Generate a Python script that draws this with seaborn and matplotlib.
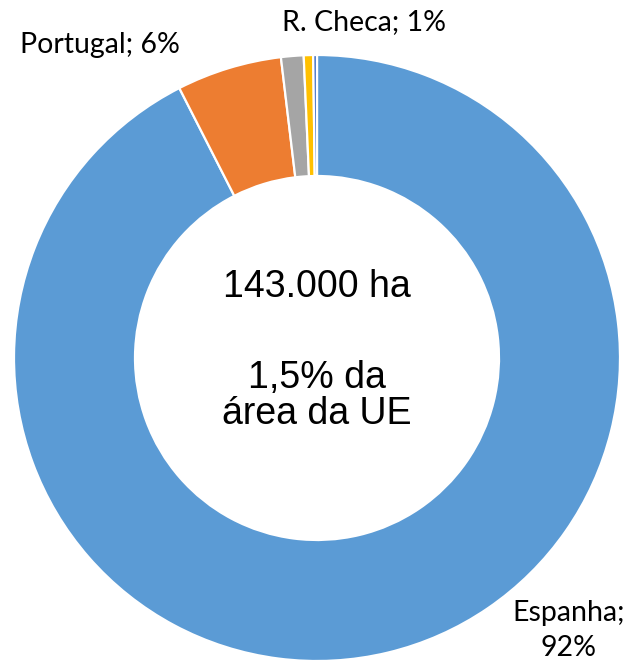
import matplotlib
matplotlib.use("Agg")
import matplotlib.pyplot as plt
import seaborn as sns

countries = ["Espanha", "Portugal", "R. Checa", "Outro A", "Outro B"]
shares = [92.4, 5.6, 1.2, 0.5, 0.2]
colors = ["#5B9BD5", "#ED7D31", "#A5A5A5", "#FFC000", "#4472C4"]
center_lines = ["143.000 ha", "1,5% da", "área da UE"]

sns.set_theme(style="white")
plt.rcParams["font.family"] = ["Liberation Sans", "DejaVu Sans"]

W, H = 631, 663
fig = plt.figure(figsize=(W / 100, H / 100), dpi=100)
ax = fig.add_axes([0, 0, 1, 1])

cx, cy, R = 317, H - 358, 303
ax.pie(shares, colors=colors, startangle=90, counterclock=False,
       center=(cx, cy), radius=R, frame=True,
       wedgeprops=dict(width=121, edgecolor="white", linewidth=1.6))
ax.set_xlim(0, W)
ax.set_ylim(0, H)
ax.axis("off")

total = sum(shares)
pct = [round(v / total * 100) for v in shares]
lab_font = dict(family=["Lato", "DejaVu Sans"], fontsize=20.5, color="black")
ax.text(100, H - 45, f"{countries[1]}; {pct[1]}%", ha="center", va="center", **lab_font)
ax.text(364, H - 22, f"{countries[2]}; {pct[2]}%", ha="center", va="center", **lab_font)
ax.text(569, H - 613, f"{countries[0]};", ha="center", va="center", **lab_font)
ax.text(569, H - 648, f"{pct[0]}%", ha="center", va="center", **lab_font)

ax.text(cx, H - 287, center_lines[0], ha="center", va="center", fontsize=27, color="black")
ax.text(cx, H - 378, center_lines[1], ha="center", va="center", fontsize=27, color="black")
ax.text(cx, H - 414, center_lines[2], ha="center", va="center", fontsize=27, color="black")

fig.savefig("out.png", dpi=100, facecolor="white")
